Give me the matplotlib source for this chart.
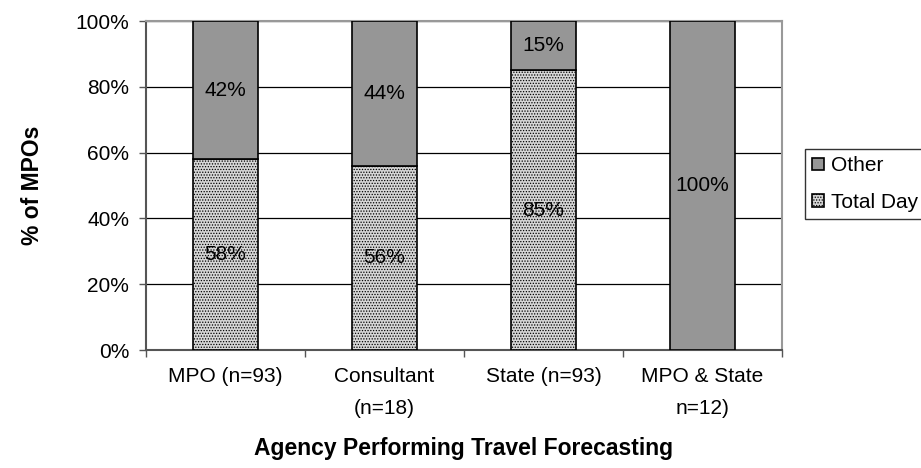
import matplotlib.pyplot as plt
import numpy as np

plt.rcParams['font.family'] = ['Liberation Sans', 'DejaVu Sans']
plt.rcParams['hatch.color'] = '#8c8c8c'
plt.rcParams['hatch.linewidth'] = 0.6

categories = ['MPO (n=93)', 'Consultant\n(n=18)', 'State (n=93)', 'MPO & State\nn=12)']
total_day = [58, 56, 85, 0]
other = [42, 44, 15, 100]

fig = plt.figure(figsize=(9.21, 4.68), dpi=100)
ax = fig.add_axes([146 / 921, 1 - 350 / 468, (782 - 146) / 921, (350 - 21) / 468])

x = np.arange(len(categories))
width = 0.415

ax.bar(x, total_day, width, color='#d6d6d6', hatch='......', edgecolor='black',
       linewidth=1.2, label='Total Day', zorder=3)
ax.bar(x, other, width, bottom=total_day, color='#969696', edgecolor='black',
       linewidth=1.2, label='Other', zorder=3)

# percentage labels in the middle of each segment
for i in range(len(categories)):
    if total_day[i] > 0:
        ax.text(x[i], total_day[i] / 2, f'{total_day[i]}%', ha='center', va='center',
                fontsize=15, zorder=4)
    ax.text(x[i], total_day[i] + other[i] / 2, f'{other[i]}%', ha='center', va='center',
            fontsize=15, zorder=4)

ax.set_xlim(-0.5, len(categories) - 0.5)
ax.set_ylim(0, 100)
ax.set_yticks(range(0, 101, 20))
ax.set_yticklabels([f'{v}%' for v in range(0, 101, 20)], fontsize=15)
ax.yaxis.grid(True, color='black', linewidth=0.9, zorder=0)

ax.set_xticks(x)
ax.set_xticklabels(categories, fontsize=15, linespacing=1.9)
ax.set_xticks(np.arange(len(categories) + 1) - 0.5, minor=True)
ax.tick_params(axis='x', which='major', length=0, pad=12)
ax.tick_params(axis='x', which='minor', length=5, width=1, color='#555555', direction='out')
ax.tick_params(axis='y', length=5, width=1, color='#555555', direction='out', pad=7)

for side in ['left', 'bottom']:
    ax.spines[side].set_color('#555555')
    ax.spines[side].set_linewidth(1.5)
for side in ['top', 'right']:
    ax.spines[side].set_color('#999999')
    ax.spines[side].set_linewidth(1.5)

ax.set_ylabel('% of MPOs', fontsize=16.5, fontweight='bold', labelpad=23)
ax.set_xlabel('Agency Performing Travel Forecasting', fontsize=16.5, fontweight='bold')
ax.xaxis.set_label_coords(0.5, -0.265)

handles, labels = ax.get_legend_handles_labels()
leg = fig.legend(handles[::-1], labels[::-1], loc='upper left', bbox_to_anchor=(805 / 921, 1 - 149 / 468),
                 fontsize=15, frameon=True, fancybox=False, edgecolor='black', handlelength=0.55,
                 handleheight=0.55, handletextpad=0.35, borderpad=0.35, borderaxespad=0,
                 labelspacing=0.85)
leg.get_frame().set_linewidth(1.0)

fig.savefig('out.png', dpi=100)
